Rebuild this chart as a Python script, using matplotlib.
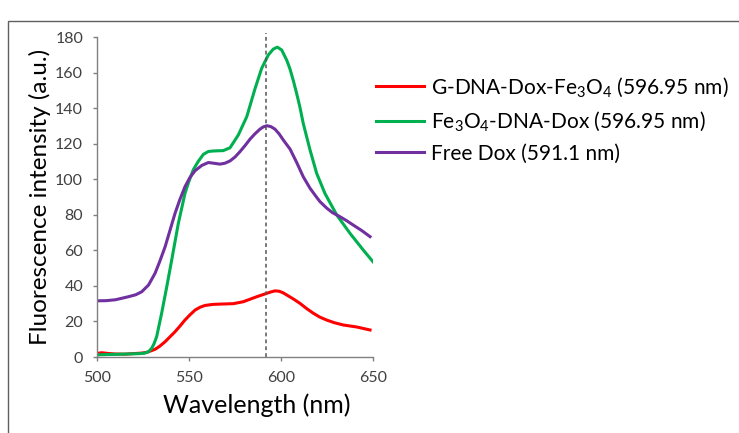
import matplotlib
matplotlib.use('Agg')
import matplotlib.pyplot as plt
from matplotlib.patches import Rectangle

plt.rcParams['font.family'] = ['Lato', 'DejaVu Sans']
plt.rcParams['mathtext.fontset'] = 'custom'
plt.rcParams['mathtext.rm'] = 'Lato'
plt.rcParams['mathtext.it'] = 'Lato:italic'

# G-DNA-Dox-Fe3O4
red_wl = [500, 502.5, 506, 509.8, 515, 524.3, 527, 531.5, 534, 537, 542.4, 545, 547.8, 550.5,
          553.3, 556, 558.7, 563, 567.8, 574.1, 579.5, 586.8, 592.2, 594.5, 596.7, 599, 601,
          603.1, 606.5, 610.3, 614, 617.6, 621, 624.8, 629, 633.9, 641.1, 648.4]
red_val = [2.0, 2.4, 2.0, 1.7, 1.6, 2.2, 2.6, 4.3, 6.0, 8.6, 14.2, 17.3, 20.8, 23.7,
           26.4, 28.0, 29.0, 29.6, 29.8, 30.0, 31.1, 33.9, 35.8, 36.6, 37.2, 37.0, 36.2,
           34.9, 32.8, 30.2, 27.2, 24.6, 22.5, 20.8, 19.3, 18.0, 16.9, 15.2]

# Fe3O4-DNA-Dox
green_wl = [500, 505, 510, 517, 523, 526, 528, 529.7, 531, 532.4, 535.1, 537.9, 540.6, 544.2,
            547.8, 550, 552.4, 555, 557.8, 560.5, 563.2, 568.6, 572.3, 576.8, 581.4, 585.9,
            589.5, 593.1, 595.8, 598, 600.4, 603.1, 604.9, 606.7, 608.5, 610.3, 612.1, 615.8,
            619.4, 623.9, 630.3, 637.5, 644.7, 650]
green_val = [1.2, 1.4, 1.5, 1.7, 1.9, 2.2, 3.0, 4.9, 7.5, 11.4, 24.5, 39.5, 54.6, 75.2,
             92.0, 99.0, 105.5, 110.0, 114.0, 115.6, 115.9, 116.1, 117.7, 124.9, 135.2, 151.0,
             162.4, 169.9, 173.2, 174.3, 172.7, 167.0, 162.0, 155.5, 148.3, 140.5, 131.4, 116.4,
             103.3, 92.0, 79.9, 69.6, 60.2, 53.6]

# Free Dox
purple_wl = [500, 505, 510, 517, 521, 524.3, 528, 531.5, 534, 537, 542.4, 545, 547.8, 550.5,
             553.3, 557, 560.5, 563.5, 566.8, 569.5, 572.3, 575, 577.7, 580.5, 583.2, 585.9,
             588.6, 590.5, 592.4, 594.5, 596.7, 599, 601.3, 604.9, 608.5, 612.1, 615.8, 619.4,
             621.2, 624.8, 628, 632.1, 635.5, 639.3, 643.8, 648.4]
purple_val = [31.6, 31.7, 32.2, 33.9, 35.0, 36.7, 40.5, 47.0, 53.5, 62.0, 80.8, 88.5, 95.8, 101.0,
              104.8, 107.8, 109.4, 109.0, 108.5, 109.0, 110.3, 112.5, 115.5, 119.0, 122.6, 125.6,
              128.2, 129.5, 130.1, 129.6, 128.2, 125.5, 122.0, 117.0, 109.5, 101.4, 94.9, 89.8,
              87.4, 83.8, 81.2, 78.9, 76.8, 74.2, 71.2, 67.7]

labels = ['G-DNA-Dox-Fe$_3$O$_4$ (596.95 nm)',
          'Fe$_3$O$_4$-DNA-Dox (596.95 nm)',
          'Free Dox (591.1 nm)']
peak_line = 592

fig = plt.figure(figsize=(7.39, 4.33), dpi=100)
ax = fig.add_axes([0.1313, 0.1755, 0.3734, 0.739])

ax.plot(red_wl, red_val, color='#ff0000', lw=2.2, label=labels[0])
ax.plot(green_wl, green_val, color='#00b050', lw=2.2, label=labels[1])
ax.plot(purple_wl, purple_val, color='#7030a0', lw=2.2, label=labels[2])
ax.plot([peak_line, peak_line], [0, 182], color='#555555', lw=1.1,
        linestyle=(0, (2.5, 2)), clip_on=False)

ax.set_xlim(500, 650)
ax.set_ylim(0, 180)
ax.set_xticks([500, 550, 600, 650])
ax.set_yticks(range(0, 181, 20))
for s in ['top', 'right']:
    ax.spines[s].set_visible(False)
for s in ['left', 'bottom']:
    ax.spines[s].set_color('#808080')
    ax.spines[s].set_linewidth(1.0)
ax.tick_params(direction='out', length=3, width=1, color='#808080',
               labelsize=11.5, labelcolor='#404040', pad=7)

ax.set_xlabel('Wavelength (nm)', fontsize=18, labelpad=6, x=0.58)
ax.set_ylabel('Fluorescence intensity (a.u.)', fontsize=17.5, labelpad=3)

fig.legend(loc='center left', bbox_to_anchor=(0.484, 0.724), frameon=False,
           fontsize=15, handlelength=2.3, handletextpad=0.3, labelspacing=0.5)

fig.patches.append(Rectangle((8 / 739, -0.1), 1.2, 1.1 - 21 / 433,
                             transform=fig.transFigure, fill=False,
                             edgecolor='#606060', lw=1.0))

fig.savefig('out.png', dpi=100)
